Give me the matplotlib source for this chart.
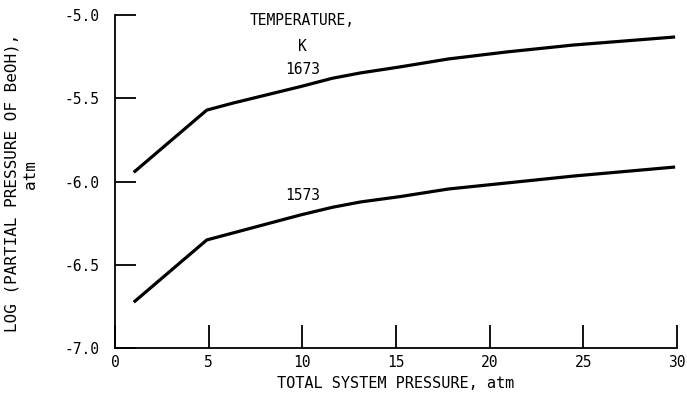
import matplotlib
matplotlib.use("Agg")
import matplotlib.pyplot as plt

# Data
pressure_1673 = [1, 4.9, 6.3, 9.9, 11.6, 13.1, 15.2, 17.8, 20.9, 24.5, 29.9]
logp_1673 = [-5.945, -5.571, -5.529, -5.430, -5.380, -5.348, -5.312, -5.264, -5.222, -5.180, -5.132]
pressure_1573 = [1, 4.9, 6.3, 9.9, 11.6, 13.1, 15.2, 17.8, 20.9, 24.5, 29.9]
logp_1573 = [-6.725, -6.351, -6.309, -6.201, -6.155, -6.123, -6.091, -6.045, -6.009, -5.967, -5.913]
x_ticks = [0, 5, 10, 15, 20, 25, 30]
y_ticks = [-7.0, -6.5, -6.0, -5.5, -5.0]
y_tick_labels = ["-7.0", "-6.5", "-6.0", "-5.5", "-5.0"]

plt.rcParams['font.family'] = ['DejaVu Sans Mono', 'DejaVu Sans']

fig = plt.figure(figsize=(6.87, 3.95), dpi=100)
ax = fig.add_axes([115/687, 1 - 348/395, (677 - 115)/687, (348 - 15)/395])

ax.plot(pressure_1673, logp_1673, color='black', lw=2.3, solid_capstyle='butt')
ax.plot(pressure_1573, logp_1573, color='black', lw=2.3, solid_capstyle='butt')

ax.set_xlim(0, 30)
ax.set_ylim(-7.0, -5.0)
ax.set_xticks(x_ticks)
ax.set_xticklabels([str(v) for v in x_ticks])
ax.set_yticks(y_ticks)
ax.set_yticklabels(y_tick_labels)

for s in ['top', 'right']:
    ax.spines[s].set_visible(False)
for s in ['left', 'bottom']:
    ax.spines[s].set_linewidth(1.3)

ax.tick_params(axis='x', direction='in', length=16.5, width=1.3, labelsize=10.5, pad=5)
ax.tick_params(axis='y', direction='in', length=15, width=1.3, labelsize=10.5, pad=11)

ax.set_xlabel("TOTAL SYSTEM PRESSURE, atm", fontsize=11, labelpad=4)
fig.text(12/687, 1 - 183/395, "LOG (PARTIAL PRESSURE OF BeOH),", rotation=90,
         ha='center', va='center', fontsize=11.5)
fig.text(31/687, 1 - 175/395, "atm", rotation=90, ha='center', va='center', fontsize=11.5)

ax.text(10.0, -5.036, "TEMPERATURE,", fontsize=10.5, ha='center', va='center')
ax.text(10.0, -5.192, "K", fontsize=10.5, ha='center', va='center')
ax.text(10.0, -5.33, "1673", fontsize=10.5, ha='center', va='center')
ax.text(10.0, -6.087, "1573", fontsize=10.5, ha='center', va='center')

fig.savefig("out.png", dpi=100)
